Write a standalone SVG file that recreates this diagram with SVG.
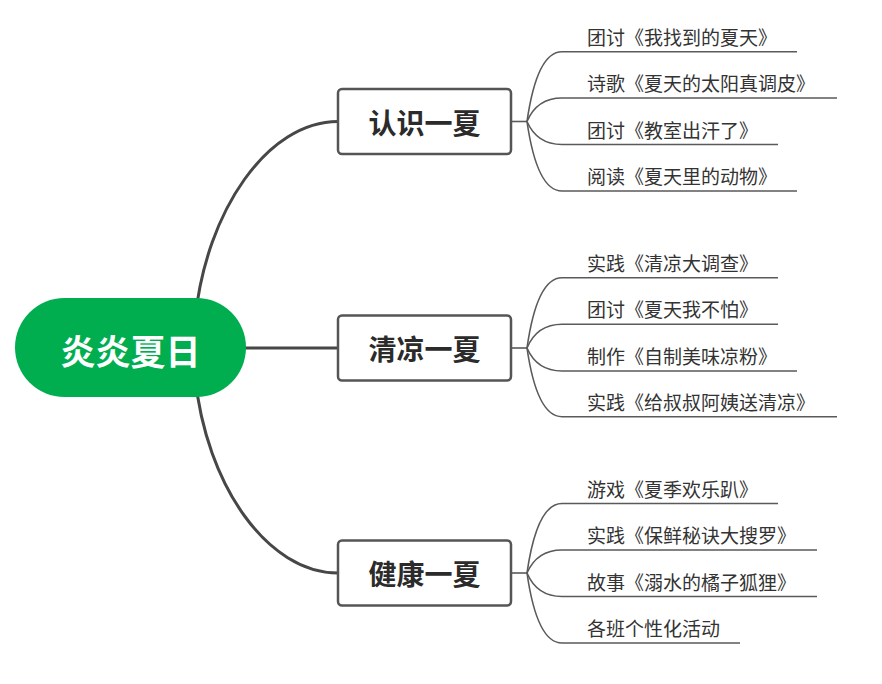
<svg xmlns="http://www.w3.org/2000/svg" width="882" height="684" viewBox="0 0 882 684">
<style>
.main{fill:none;stroke:#474747;stroke-width:3;stroke-linecap:round}
.sub{fill:none;stroke:#5a5a5a;stroke-width:1.6}
.box{fill:#fff;stroke:#555;stroke-width:2.5}
.bt{font-family:"Noto Sans CJK SC",sans-serif;font-weight:bold;font-size:28px;fill:#2b2b2b;text-anchor:middle;dominant-baseline:central}
.ct{font-family:"Noto Sans CJK SC",sans-serif;font-size:19px;fill:#333;dominant-baseline:central}
.rt{font-family:"Noto Sans CJK SC",sans-serif;font-weight:bold;font-size:35px;fill:#fff;text-anchor:middle;dominant-baseline:central}
</style>
<rect width="882" height="684" fill="#fff"/>
<g id="connectors">
<path class="main" d="M195,320 C206,210 268,121.5 338,121.5"/>
<path class="main" d="M240,348 H338"/>
<path class="main" d="M195,376 C206,486 268,573 338,573"/>
<path class="sub" d="M511,121.5 H527"/>
<path class="sub" d="M527,121.5 Q537,51.7 562,51.7 H797"/>
<path class="sub" d="M527,121.5 Q537,98 562,98 H837"/>
<path class="sub" d="M527,121.5 Q537,144.5 562,144.5 H778"/>
<path class="sub" d="M527,121.5 Q537,191 562,191 H797"/>
<path class="sub" d="M511,348 H527"/>
<path class="sub" d="M527,348 Q537,277.7 562,277.7 H778"/>
<path class="sub" d="M527,348 Q537,324.3 562,324.3 H778"/>
<path class="sub" d="M527,348 Q537,371 562,371 H797"/>
<path class="sub" d="M527,348 Q537,416.7 562,416.7 H837"/>
<path class="sub" d="M511,573 H527"/>
<path class="sub" d="M527,573 Q537,503.5 562,503.5 H778"/>
<path class="sub" d="M527,573 Q537,550 562,550 H817"/>
<path class="sub" d="M527,573 Q537,596.5 562,596.5 H817"/>
<path class="sub" d="M527,573 Q537,643 562,643 H740"/>
</g>
<g id="root">
<rect x="15" y="298" width="231" height="99" rx="49.5" fill="#00ae50"/>
<text class="rt" x="130.5" y="349">炎炎夏日</text>
</g>
<g id="b1">
<rect class="box" x="338" y="89" width="173" height="65" rx="4"/>
<text class="bt" x="424.5" y="121.5">认识一夏</text>
</g>
<g id="b2">
<rect class="box" x="338" y="315.5" width="173" height="65" rx="4"/>
<text class="bt" x="424.5" y="348">清凉一夏</text>
</g>
<g id="b3">
<rect class="box" x="338" y="540.5" width="173" height="65" rx="4"/>
<text class="bt" x="424.5" y="573">健康一夏</text>
</g>
<g id="c1-1"><text class="ct" x="587" y="36">团讨《我找到的夏天》</text></g>
<g id="c1-2"><text class="ct" x="587" y="82.5">诗歌《夏天的太阳真调皮》</text></g>
<g id="c1-3"><text class="ct" x="587" y="129">团讨《教室出汗了》</text></g>
<g id="c1-4"><text class="ct" x="587" y="175.5">阅读《夏天里的动物》</text></g>
<g id="c2-1"><text class="ct" x="587" y="262">实践《清凉大调查》</text></g>
<g id="c2-2"><text class="ct" x="587" y="308.5">团讨《夏天我不怕》</text></g>
<g id="c2-3"><text class="ct" x="587" y="355">制作《自制美味凉粉》</text></g>
<g id="c2-4"><text class="ct" x="587" y="401">实践《给叔叔阿姨送清凉》</text></g>
<g id="c3-1"><text class="ct" x="587" y="488">游戏《夏季欢乐趴》</text></g>
<g id="c3-2"><text class="ct" x="587" y="534.5">实践《保鲜秘诀大搜罗》</text></g>
<g id="c3-3"><text class="ct" x="587" y="581">故事《溺水的橘子狐狸》</text></g>
<g id="c3-4"><text class="ct" x="587" y="627.5">各班个性化活动</text></g>
</svg>
